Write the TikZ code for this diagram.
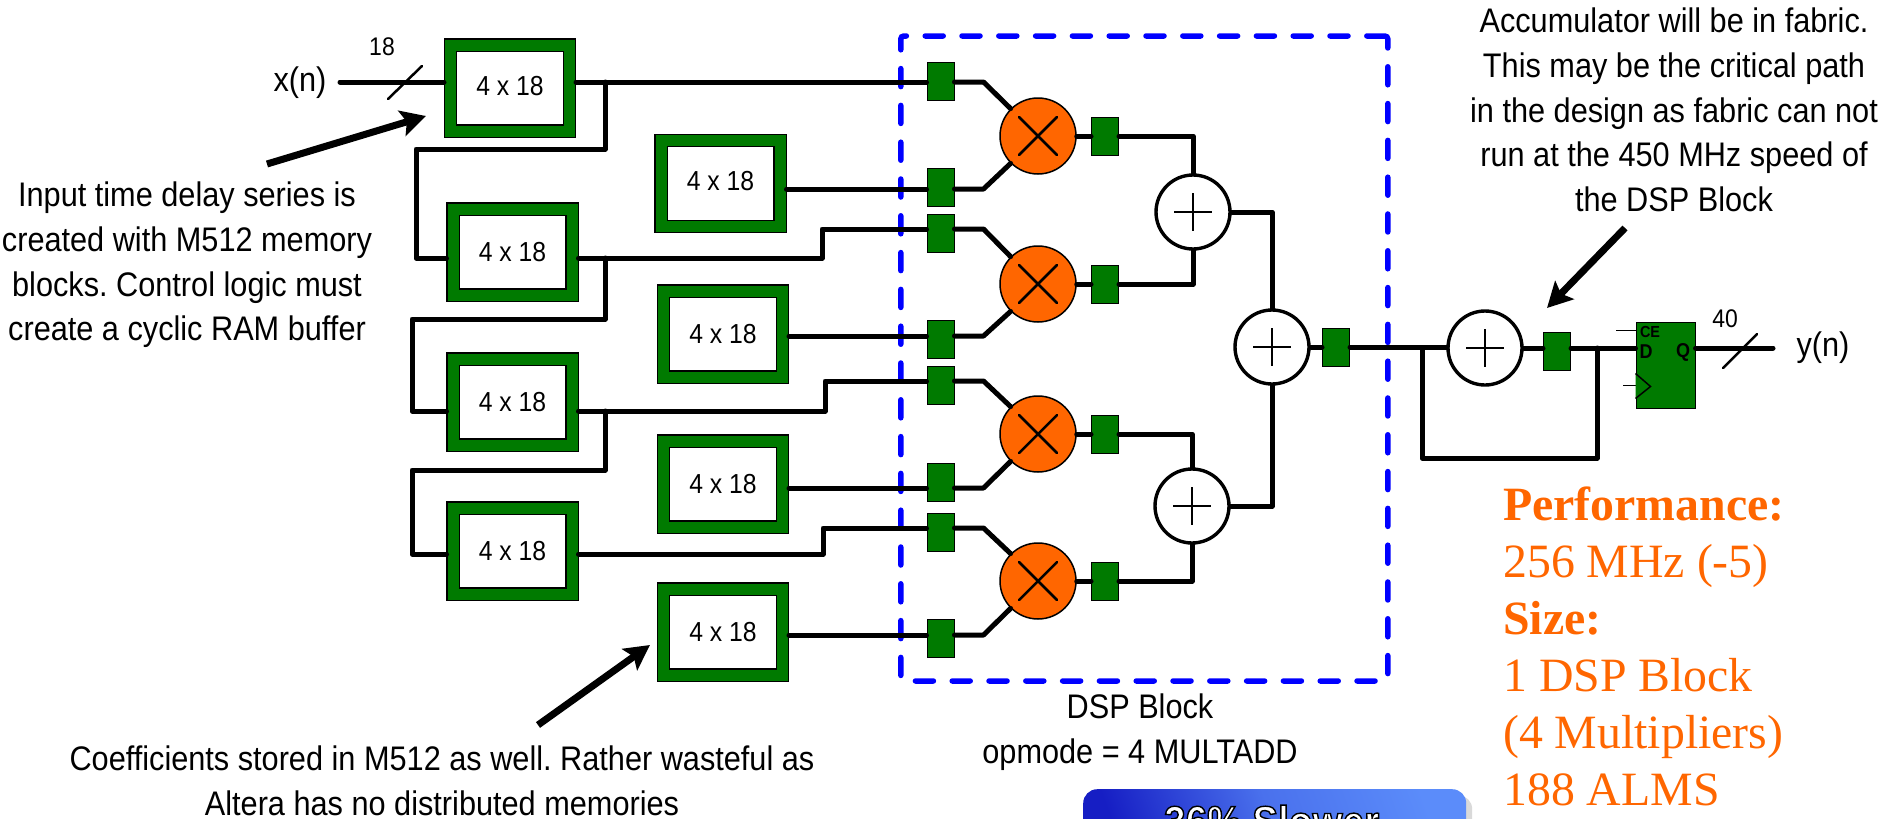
\documentclass[tikz,border=0pt]{standalone}
\usepackage{fontspec}
\setmainfont[FakeStretch=0.9]{Liberation Sans}
\newfontfamily\perfFont{Liberation Serif}
\usepackage{xcolor}
\definecolor{colorReg}{RGB}{0,122,0}
\definecolor{colorMult}{RGB}{255,102,0}
\definecolor{colorDsp}{RGB}{0,0,255}
\definecolor{colorBtnA}{RGB}{22,30,196}
\definecolor{colorBtnB}{RGB}{91,140,250}
\usetikzlibrary{arrows.meta, positioning, shadows}
\frenchspacing
\tikzset{wire/.style={line width=5pt, line join=round, line cap=round}}
\tikzset{slash/.style={line width=2.5pt, line cap=round}}
\tikzset{bigarrow/.style={line width=7pt, -{Stealth[length=25pt,width=26pt,inset=5pt]}}}
\tikzset{membox/.style={draw=black, line width=1.2pt, double=colorReg, double distance=11pt, fill=white, minimum width=119pt, minimum height=86pt, inner sep=0pt, outer sep=6.5pt, font=\fontsize{27.5}{30}\selectfont}}
\tikzset{regbox/.style={draw=black, line width=1pt, fill=colorReg, minimum width=27pt, minimum height=38pt, inner sep=0pt}}
\tikzset{mulnode/.style={circle, draw=black, line width=1.5pt, fill=colorMult, minimum size=76pt, inner sep=0pt, path picture={\draw[line width=2.5pt, line cap=round] (path picture bounding box.center) +(-19,-19) -- +(19,19) +(-19,19) -- +(19,-19);}}}
\tikzset{addnode/.style={circle, draw=black, line width=3.4pt, fill=white, minimum size=74pt, inner sep=0pt, path picture={\draw[line width=2pt] (path picture bounding box.center) +(-19,0) -- +(19,0) +(0,-19) -- +(0,19);}}}
\tikzset{note/.style={align=center, inner sep=0pt, font=\fontsize{34.1}{44.7}\selectfont}}
\tikzset{small/.style={inner sep=0pt, font=\fontsize{25.5}{28}\selectfont}}
\tikzset{fflabel/.style={inner sep=0pt, font=\bfseries\fontsize{20}{24}\selectfont}}
\begin{document}
\begin{tikzpicture}[x=1pt, y=-1pt, node distance=67pt]
\useasboundingbox (0,0) rectangle (1882,819);
\clip (0,0) rectangle (1882,819);
\node[membox] (mem1) at (510,88) {\raisebox{4pt}{4 x 18}};
\node[membox] (mem2) at (512.5,252) {4 x 18};
\node[membox] (mem3) at (512.5,402) {4 x 18};
\node[membox] (mem4) at (512.5,551) {4 x 18};
\node[membox] (coef1) at (720.5,183.5) {\raisebox{6pt}{4 x 18}};
\node[membox] (coef2) at (723,334) {4 x 18};
\node[membox] (coef3) at (723,484) {4 x 18};
\node[membox] (coef4) at (723,632) {4 x 18};
\node[regbox] (r1) at (940.5,81.5) {};
\node[regbox] (r2) at (940.5,187.5) {};
\node[regbox] (r3) at (940.5,233) {};
\node[regbox] (r4) at (940.5,339) {};
\node[regbox] (r5) at (940.5,385) {};
\node[regbox] (r6) at (940.5,482) {};
\node[regbox] (r7) at (940.5,532) {};
\node[regbox] (r8) at (940.5,638) {};
\node[mulnode] (m1) at (1038,136) {};
\node[mulnode] (m2) at (1038,284) {};
\node[mulnode] (m3) at (1038,434) {};
\node[mulnode] (m4) at (1038,581) {};
\node[regbox, right of=m1] (o1) {};
\node[regbox, right of=m2] (o2) {};
\node[regbox, right of=m3] (o3) {};
\node[regbox, right of=m4] (o4) {};
\node[addnode] (a1) at (1193,212) {};
\node[addnode] (a2) at (1192,506) {};
\node[addnode] (a3) at (1272,347) {};
\node[regbox] (r9) at (1336,347) {};
\node[addnode] (a4) at (1485,348) {};
\node[regbox] (r10) at (1557,351) {};
\node[regbox, minimum width=59pt, minimum height=86pt] (ff) at (1665.5,365) {};
\draw[wire] (a3.east) -- (r9.west);
\draw[wire] (r9.east) -- (r9.east -| a4.west);
\node[draw=colorDsp, line width=5.5pt, line cap=round, dash pattern=on 18pt off 18.8pt, rounded corners=3pt, minimum width=487pt, minimum height=645pt, inner sep=0pt] (dsp) at (1144.3,358.5) {};
\coordinate (w1) at (900,82);
\coordinate (w2) at (900,189);
\coordinate (w3) at (900,229);
\coordinate (w4) at (900,336);
\coordinate (w5) at (900,381);
\coordinate (w6) at (900,488);
\coordinate (w7) at (900,528);
\coordinate (w8) at (900,635);
\coordinate (j1) at (605,82);
\coordinate (j2) at (605,258);
\coordinate (j3) at (605,411);
\coordinate (j4) at (605,554);
\coordinate (n1) at (416,149);
\coordinate (n2) at (412,319);
\coordinate (n3) at (412,470);
\coordinate (b2) at (822,229);
\coordinate (b3) at (825,381);
\coordinate (b4) at (823,528);
\coordinate (xin) at (340,82);
\coordinate (yout) at (1773,348);
\draw[wire] (xin) -- (mem1.west |- xin);
\draw[wire] (mem1.east |- w1) -- (r1.west |- w1);
\draw[wire] (j1) |- (n1) |- (mem2.west |- j2);
\draw[wire] (j2) |- (n2) |- (mem3.west |- j3);
\draw[wire] (j3) |- (n3) |- (mem4.west |- j4);
\draw[wire] (mem2.east |- j2) -| (b2) -- (r3.west |- b2);
\draw[wire] (mem3.east |- j3) -| (b3) -- (r5.west |- b3);
\draw[wire] (mem4.east |- j4) -| (b4) -- (r7.west |- b4);
\draw[wire] (coef1.east |- w2) -- (r2.west |- w2);
\draw[wire] (coef2.east |- w4) -- (r4.west |- w4);
\draw[wire] (coef3.east |- w6) -- (r6.west |- w6);
\draw[wire] (coef4.east |- w8) -- (r8.west |- w8);
\draw[wire] (r1.east |- w1) -- ++(29,0) -- (m1.135);
\draw[wire] (r2.east |- w2) -- ++(29,0) -- (m1.225);
\draw[wire] (r3.east |- w3) -- ++(29,0) -- (m2.135);
\draw[wire] (r4.east |- w4) -- ++(29,0) -- (m2.225);
\draw[wire] (r5.east |- w5) -- ++(29,0) -- (m3.135);
\draw[wire] (r6.east |- w6) -- ++(29,0) -- (m3.225);
\draw[wire] (r7.east |- w7) -- ++(29,0) -- (m4.135);
\draw[wire] (r8.east |- w8) -- ++(29,0) -- (m4.225);
\draw[wire] (m1.east) -- (o1.west);
\draw[wire] (m2.east) -- (o2.west);
\draw[wire] (m3.east) -- (o3.west);
\draw[wire] (m4.east) -- (o4.west);
\draw[wire] (o1.east) -| (a1.north);
\draw[wire] (o2.east) -| (a1.south);
\draw[wire] (o3.east) -| (a2.north);
\draw[wire] (o4.east) -| (a2.south);
\draw[wire] (a1.east) -| (a3.north);
\draw[wire] (a2.east) -| (a3.south);
\draw[wire] (a4.east) -- (a4.east -| r10.west);
\draw[wire] (a4.east -| r10.east) -- (a4.east -| ff.west);
\coordinate (fb1) at (1422,348);
\coordinate (fb2) at (1597,348);
\coordinate (fbc) at (1597,458);
\draw[wire] (fb1) |- (fbc) -- (fb2);
\draw[wire] (a4.east -| ff.east) -- (yout);
\draw[line width=1.5pt] ([yshift=-9pt]ff.north west) -- ++(-20,0);
\draw[line width=1.5pt] ([yshift=23pt]ff.south west) -- ++(-13,0);
\draw[line width=1.5pt, fill=colorReg] ([yshift=10pt]ff.south west) -- ++(15,-12) -- ++(-15,-13);
\node[fflabel, font=\bfseries\fontsize{16}{20}\selectfont] (ffce) at (1650,332) {CE};
\node[fflabel] (ffd) at (1646,352) {D};
\node[fflabel] (ffq) at (1683,352) {Q};
\coordinate (s1a) at (388,99);
\coordinate (s1b) at (422,66);
\coordinate (s2a) at (1723,368);
\coordinate (s2b) at (1757,334);
\draw[slash] (s1a) -- (s1b);
\draw[slash] (s2a) -- (s2b);
\node[note] (xn) at (300,83) {x(n)};
\node[note] (yn) at (1823,348) {y(n)};
\node[small] (w18) at (382,47) {18};
\node[small] (w40) at (1725,319) {40};
\node[note] (inp) at (187,265) {Input time delay series is\\created with M512 memory\\blocks. Control logic must\\create a cyclic RAM buffer};
\node[note] (acc) at (1674,110) {Accumulator will be in fabric.\\This may be the critical path\\in the design as fabric can not\\run at the 450 MHz speed of\\the DSP Block};
\node[note] (cfs) at (442,781) {Coefficients stored in M512 as well. Rather wasteful as\\Altera has no distributed memories};
\node[note] (dspl) at (1140,732) {DSP Block\\opmode = 4 MULTADD};
\coordinate (ar1a) at (267,164);
\coordinate (ar1b) at (426,116);
\coordinate (ar2a) at (538,725);
\coordinate (ar2b) at (650,645);
\coordinate (ar3a) at (1625,228);
\coordinate (ar3b) at (1547,308);
\draw[bigarrow] (ar1a) -- (ar1b);
\draw[bigarrow] (ar2a) -- (ar2b);
\draw[bigarrow] (ar3a) -- (ar3b);
\node[anchor=north west, align=left, inner sep=0pt, text=colorMult, font=\perfFont\fontsize{47.8}{57}\selectfont] (perf) at (1503,487) {\textbf{Performance:}\\256 MHz (-5)\\\textbf{Size:}\\1 DSP Block\\(4 Multipliers)\\188 ALMS};
\node[rounded corners=14pt, minimum width=383pt, minimum height=80pt, left color=colorBtnA, right color=colorBtnB, middle color=colorBtnB!75!colorBtnA, shading angle=110, drop shadow={shadow xshift=6pt, shadow yshift=-6pt, fill=black!15, opacity=1}, text=white, anchor=north west, font=\bfseries\fontsize{43}{46}\selectfont, text height=47pt, text depth=33pt, inner ysep=0pt, inner xsep=0pt] (btn) at (1083,789) {\kern-6pt\special{pdf:code 2 Tr 1.4 w 0 0 0 RG}36\% Slower\special{pdf:code 0 Tr}};
\end{tikzpicture}
\end{document}
